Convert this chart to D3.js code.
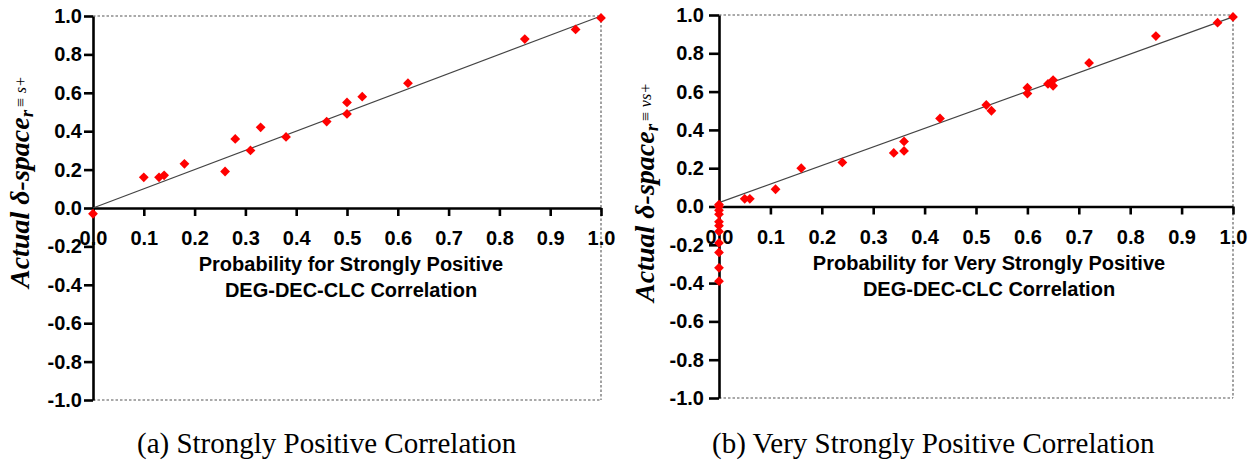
<!DOCTYPE html>
<html>
<head>
<meta charset="utf-8">
<script src="https://cdn.jsdelivr.net/npm/d3@7"></script>
<style>
  html, body { margin: 0; padding: 0; background: #fff; }
  svg { display: block; }
</style>
</head>
<body>
<svg id="chart" width="1258" height="462"></svg>
<script>
// Tick values shared by both panels
const xTicks = [0, 0.1, 0.2, 0.3, 0.4, 0.5, 0.6, 0.7, 0.8, 0.9, 1.0];
const yTicks = [-1.0, -0.8, -0.6, -0.4, -0.2, 0.0, 0.2, 0.4, 0.6, 0.8, 1.0];

// (a) Strongly positive correlation: predicted probability vs actual delta-space
const probStrong = [0.00, 0.10, 0.13, 0.14, 0.18, 0.26, 0.28, 0.31, 0.33, 0.38,
                    0.46, 0.50, 0.50, 0.53, 0.62, 0.85, 0.95, 1.00];
const actualStrong = [-0.03, 0.16, 0.16, 0.17, 0.23, 0.19, 0.36, 0.30, 0.42, 0.37,
                      0.45, 0.49, 0.55, 0.58, 0.65, 0.88, 0.93, 0.99];
const fitStrong = [[0, 0.00], [1, 1.00]];

// (b) Very strongly positive correlation
const probVeryStrong = [0, 0, 0, 0, 0, 0, 0, 0, 0, 0, 0,
                        0.05, 0.06, 0.11, 0.16, 0.24, 0.34, 0.36, 0.36, 0.43,
                        0.52, 0.53, 0.60, 0.60, 0.64, 0.65, 0.65, 0.72, 0.85, 0.97, 1.00];
const actualVeryStrong = [0.01, 0.00, -0.02, -0.04, -0.08, -0.10, -0.13, -0.19, -0.24, -0.32, -0.39,
                          0.04, 0.04, 0.09, 0.20, 0.23, 0.28, 0.29, 0.34, 0.46,
                          0.53, 0.50, 0.62, 0.59, 0.64, 0.66, 0.63, 0.75, 0.89, 0.96, 0.99];
const fitVeryStrong = [[0, 0.02], [1, 0.99]];

const svg = d3.select("#chart");
svg.append("rect").attr("width", 1258).attr("height", 462).attr("fill", "#fff");

const sansBold = "'Liberation Sans', Arial, Helvetica, sans-serif";
const serif = "'Liberation Serif', 'Times New Roman', Times, serif";
const fmt = d => (Math.abs(d) < 1e-9 ? 0 : d).toFixed(1);

const panels = [
  {
    xs: probStrong, ys: actualStrong, fit: fitStrong,
    left: 93, right: 601, top: 16, bottom: 400,
    yTickLen: 9, yTickPad: 2,
    titleX: 351, titleLines: ["Probability for Strongly Positive", "DEG-DEC-CLC Correlation"],
    ylabX: 29, ylabY: 288, sub: "s+",
    captionX: 137, caption: "(a) Strongly Positive Correlation"
  },
  {
    xs: probVeryStrong, ys: actualVeryStrong, fit: fitVeryStrong,
    left: 719, right: 1233, top: 15, bottom: 398,
    yTickLen: 10, yTickPad: 5,
    titleX: 989, titleLines: ["Probability for Very Strongly Positive", "DEG-DEC-CLC Correlation"],
    ylabX: 654, ylabY: 302, sub: "vs+",
    captionX: 712, caption: "(b) Very Strongly Positive Correlation"
  }
];

panels.forEach(p => {
  const x = d3.scaleLinear().domain([0, 1]).range([p.left, p.right]);
  const y = d3.scaleLinear().domain([-1, 1]).range([p.bottom, p.top]);
  const g = svg.append("g");

  // dotted frame on the top, right and bottom edges
  const dash = g.append("g").attr("stroke", "#555").attr("stroke-width", 1.1)
    .attr("stroke-dasharray", "2.5,2").attr("fill", "none");
  dash.append("line").attr("x1", x(0)).attr("x2", x(1)).attr("y1", y(1)).attr("y2", y(1));
  dash.append("line").attr("x1", x(1)).attr("x2", x(1)).attr("y1", y(1)).attr("y2", y(-1));
  dash.append("line").attr("x1", x(0)).attr("x2", x(1)).attr("y1", y(-1)).attr("y2", y(-1));

  // x axis through y = 0
  const xAxis = g.append("g")
    .attr("transform", `translate(0,${y(0)})`)
    .call(d3.axisBottom(x).tickValues(xTicks).tickFormat(fmt).tickSize(8).tickSizeOuter(0).tickPadding(15));
  // y axis at x = 0
  const yAxis = g.append("g")
    .attr("transform", `translate(${x(0)},0)`)
    .call(d3.axisLeft(y).tickValues(yTicks).tickFormat(fmt).tickSize(p.yTickLen).tickSizeOuter(0).tickPadding(p.yTickPad));

  [xAxis, yAxis].forEach(a => {
    a.select(".domain").attr("stroke", "#000").attr("stroke-width", 2.6);
    a.selectAll(".tick line").attr("stroke", "#000").attr("stroke-width", 2.6);
    a.selectAll(".tick text")
      .attr("fill", "#000")
      .style("font-family", sansBold)
      .style("font-weight", "bold")
      .style("font-size", "20px");
  });

  // fitted line
  g.append("path")
    .datum(p.fit)
    .attr("fill", "none")
    .attr("stroke", "#444")
    .attr("stroke-width", 1.2)
    .attr("d", d3.line().x(d => x(d[0])).y(d => y(d[1])));

  // data points
  const pts = p.xs.map((v, i) => [v, p.ys[i]]);
  g.append("g").selectAll("path")
    .data(pts)
    .join("path")
    .attr("d", d3.symbol().type(d3.symbolSquare).size(48))
    .attr("transform", d => `translate(${x(d[0])},${y(d[1])}) rotate(45)`)
    .attr("fill", "#ff0000");

  // x axis title (two lines)
  const xt = g.append("text")
    .attr("text-anchor", "middle")
    .style("font-family", sansBold)
    .style("font-weight", "bold")
    .style("font-size", "20px")
    .attr("fill", "#000");
  xt.append("tspan").attr("x", p.titleX).attr("y", y(0) + 63).text(p.titleLines[0]);
  xt.append("tspan").attr("x", p.titleX).attr("y", y(0) + 89).text(p.titleLines[1]);

  // y axis title with subscript
  const yt = g.append("text")
    .attr("transform", `translate(${p.ylabX},${p.ylabY}) rotate(-90)`)
    .attr("text-anchor", "start")
    .style("font-family", serif)
    .style("font-weight", "bold")
    .style("font-style", "italic")
    .style("font-size", "28px")
    .attr("fill", "#000");
  yt.append("tspan").text("Actual δ-space");
  yt.append("tspan").attr("dy", 4).style("font-size", "19px").text("r");
  yt.append("tspan").attr("dy", -7).attr("dx", 2).style("font-size", "16px").style("font-weight", "normal").text("≡ " + p.sub);

  // caption
  svg.append("text")
    .attr("x", p.captionX)
    .attr("y", 453)
    .style("font-family", serif)
    .style("font-size", "29px")
    .attr("fill", "#000")
    .text(p.caption);
});
</script>
</body>
</html>
